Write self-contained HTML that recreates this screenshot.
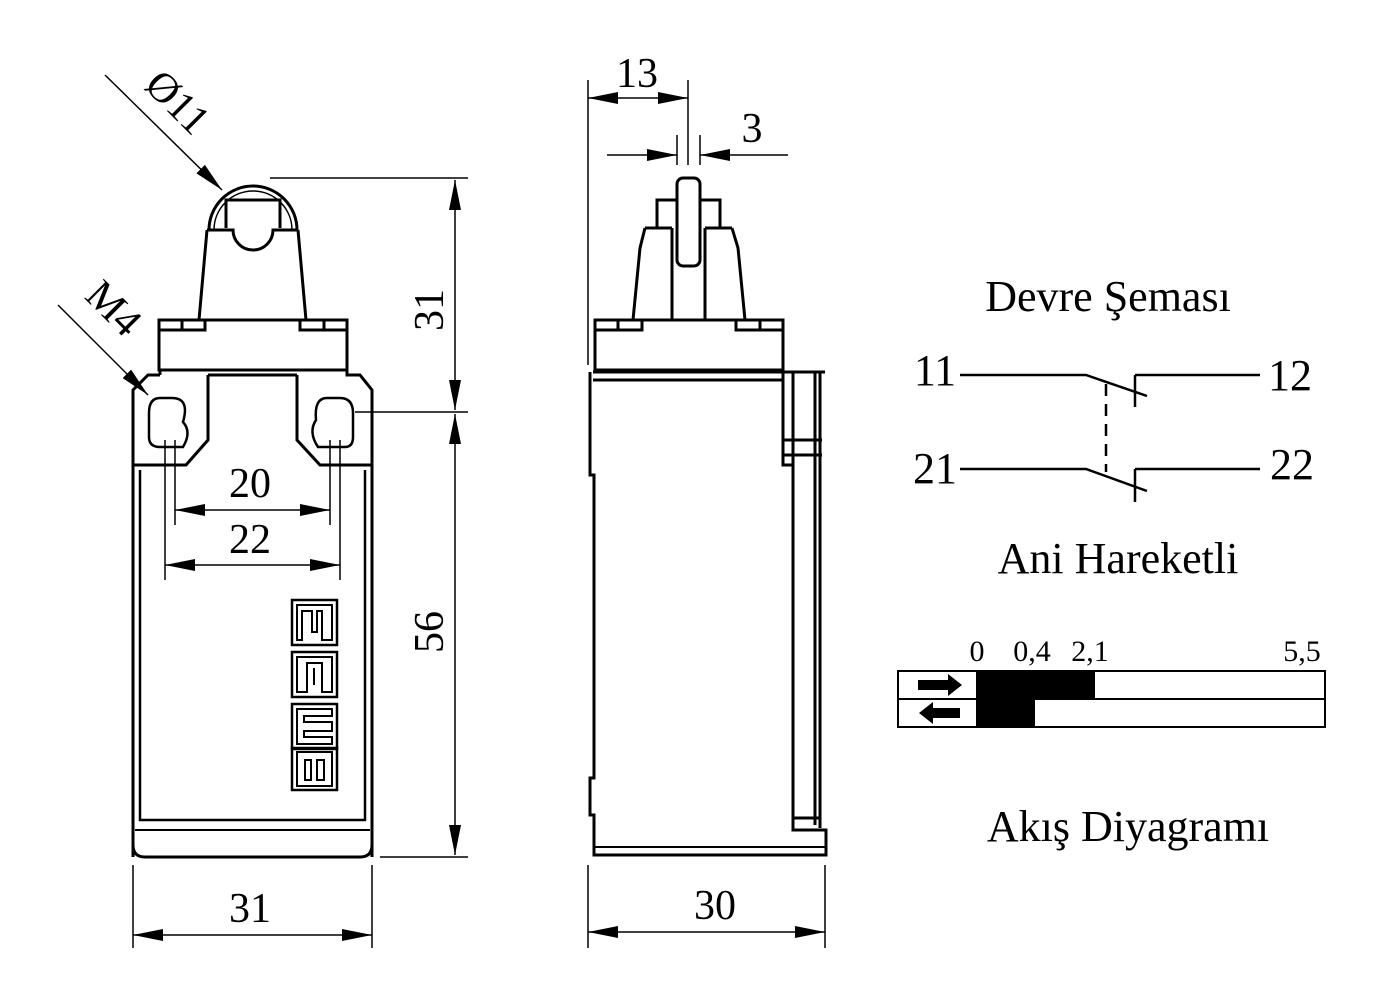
<!DOCTYPE html>
<html><head><meta charset="utf-8"><style>html,body{margin:0;padding:0;background:#fff}svg{display:block}</style></head><body>
<svg width="1381" height="1006" viewBox="0 0 1381 1006" xmlns="http://www.w3.org/2000/svg" font-family="Liberation Serif, serif" fill="none" stroke="#000">
<defs>
<marker id="a" viewBox="0 0 30 12" refX="30" refY="6" markerWidth="30" markerHeight="12" markerUnits="userSpaceOnUse" orient="auto-start-reverse"><path d="M0,0 L30,6 L0,12z" fill="#000" stroke="none"/></marker>
</defs>
<!-- FRONT VIEW -->
<g stroke-width="3">
<path d="M209,230 A44,44 0 0 1 297,230"/>
<path d="M214,230 A39,39 0 0 1 292,230" stroke-width="1.5"/>
<path d="M226,228 V200 H280 V228"/>
<path d="M207,230 H233 A20,20 0 0 0 273,230 H298"/>
<path d="M207,230 L199,320 M298,230 L306,320"/>
<rect x="159" y="320" width="188" height="50"/>
<path d="M159,330 H205 V320 M182,320 V330 M347,330 H300 V320 M324,320 V330"/>
<path d="M133,857 V390 L148,375 H160 M160,370 V375"/>
<path d="M347,370 V375 H360 L372,390 V857"/>
<path d="M208,375 V440 L186,465 H133"/>
<path d="M297,375 V440 L320,465 H372"/>
<path d="M208,375 H297"/>
<path d="M133,845 Q133,857 145,857 H360 Q372,857 372,845"/>
<path d="M140,470 V820 H365 V470" stroke-width="2.5"/>
<path d="M135,830 H370" stroke-width="2"/>
<path d="M160,398 Q149,398 149,413 V437 Q149,447 160,447 H183 Q192,432 183,422 Q190,398 172,398z" stroke-width="2.5"/>
<path d="M327,398 Q314,398 316,420 Q308,432 318,447 H345 Q353,447 353,437 V413 Q353,398 340,398z" stroke-width="2.5"/>
</g>
<!-- logo -->
<g stroke-width="2.5">
<rect x="292" y="600" width="45" height="45"/><rect x="292" y="652" width="45" height="45"/><rect x="292" y="704" width="45" height="45"/><rect x="292" y="748" width="45" height="42"/>
<path d="M297,640 V605 H332 V640 H322 V611 H317 V632 H312 V611 H302 V640z" stroke-width="2"/>
<path d="M297,692 V657 H332 V692 H322 V663 H307 V692z M314,668 V685" stroke-width="2"/>
<path d="M297,744 V709 H332 V716 H304 V722 H332 V731 H304 V737 H332 V744z" stroke-width="2"/>
<path d="M297,786 V752 H332 V786z M305,760 V780 H311 V760z M317,760 V780 H324 V760z" stroke-width="2"/>
</g>
<!-- front dimensions -->
<g stroke-width="1.5">
<path d="M270,178 H468 M355,412 H468 M380,857 H468"/>
<path d="M455,180 V410" marker-start="url(#a)" marker-end="url(#a)"/>
<path d="M455,414 V855" marker-start="url(#a)" marker-end="url(#a)"/>
<path d="M175,440 V525 M330,440 V525 M165,440 V580 M340,440 V580"/>
<path d="M175,510 H330" marker-start="url(#a)" marker-end="url(#a)"/>
<path d="M165,565 H340" marker-start="url(#a)" marker-end="url(#a)"/>
<path d="M133,865 V948 M372,865 V948"/>
<path d="M133,935 H372" marker-start="url(#a)" marker-end="url(#a)"/>
<path d="M105,75 L222,190" marker-end="url(#a)"/>
<path d="M58,305 L148,395" marker-end="url(#a)"/>
</g>
<g fill="#000" stroke="none" font-size="42">
<text x="250" y="497" text-anchor="middle">20</text>
<text x="250" y="553" text-anchor="middle">22</text>
<text x="250" y="922" text-anchor="middle">31</text>
<text transform="translate(443,310) rotate(-90)" text-anchor="middle">31</text>
<text transform="translate(443,632) rotate(-90)" text-anchor="middle">56</text>
<text transform="translate(168,112) rotate(45)" text-anchor="middle">Ø11</text>
<text transform="translate(104,318) rotate(45)" text-anchor="middle">M4</text>
</g>
<!-- SIDE VIEW -->
<g stroke-width="3">
<rect x="677" y="178" width="23" height="88" rx="6"/>
<path d="M657,228 V200 H677 M700,200 H720 V228"/>
<path d="M645,228 H672 M705,228 H732"/>
<path d="M645,228 L640,248 L633,320 M732,228 L738,248 L745,320"/>
<path d="M672,228 V320 M705,228 V320 M672,266 V270 M705,266 V270"/>
<rect x="595" y="320" width="188" height="50"/>
<path d="M595,330 H642 V320 M618,320 V330 M783,330 H736 V320 M760,320 V330"/>
<path d="M593,372 H825 M593,380 H783" />
<path d="M590,372 V475 H594 V778 H590 V815 H594 V855 H826 V830 H793 V372"/>
<path d="M594,847 H826" stroke-width="2"/>
<path d="M783,372 V465 H793 M783,440 H822 M783,455 H822 M820,372 V828 M815,372 V825 M793,818 H820"/>
</g>
<g stroke-width="1.5">
<path d="M588,80 V365 M688,80 V165 M677,135 V165 M700,135 V165 M588,865 V948 M825,865 V948"/>
<path d="M588,98 H688" marker-start="url(#a)" marker-end="url(#a)"/>
<path d="M607,155 H677" marker-end="url(#a)"/>
<path d="M788,155 H700" marker-end="url(#a)"/>
<path d="M588,932 H825" marker-start="url(#a)" marker-end="url(#a)"/>
</g>
<g fill="#000" stroke="none" font-size="42">
<text x="637" y="87" text-anchor="middle">13</text>
<text x="752" y="142" text-anchor="middle">3</text>
<text x="715" y="919" text-anchor="middle">30</text>
</g>
<!-- CIRCUIT -->
<g fill="#000" stroke="none" font-size="44">
<text x="1108" y="311" text-anchor="middle">Devre Şeması</text>
<text x="935" y="385" text-anchor="middle">11</text>
<text x="1290" y="390" text-anchor="middle">12</text>
<text x="935" y="483" text-anchor="middle">21</text>
<text x="1292" y="479" text-anchor="middle">22</text>
<text x="1118" y="573" text-anchor="middle">Ani Hareketli</text>
<text x="1128" y="841" text-anchor="middle">Akış Diyagramı</text>
</g>
<g stroke-width="2.5">
<path d="M960,375 H1086 L1147,396 M1135,375 V407 M1135,375 H1260"/>
<path d="M960,469 H1086 L1147,491 M1135,469 V502 M1135,469 H1260"/>
<path d="M1106,384 V472" stroke-dasharray="12,8"/>
</g>
<!-- Flow diagram -->
<g fill="#000" stroke="none" font-size="30">
<text x="977" y="661" text-anchor="middle">0</text>
<text x="1032" y="661" text-anchor="middle">0,4</text>
<text x="1090" y="661" text-anchor="middle">2,1</text>
<text x="1302" y="661" text-anchor="middle">5,5</text>
<rect x="976" y="671" width="119" height="28"/>
<rect x="976" y="699" width="59" height="28"/>
<path d="M918,680 H948 V674 L962,685 L948,696 V690 H918z"/>
<path d="M960,708 H933 V702 L919,713 L933,724 V718 H960z"/>
</g>
<g stroke-width="2"><rect x="898" y="671" width="427" height="56"/><path d="M898,699 H1325"/></g>
</svg>
</body></html>
